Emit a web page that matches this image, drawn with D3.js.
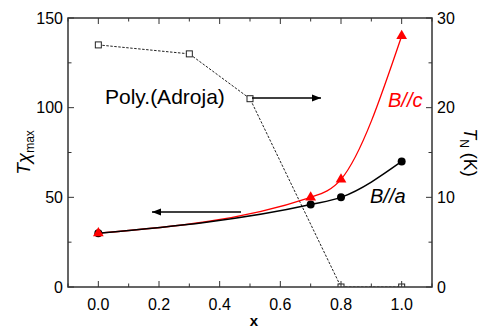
<!DOCTYPE html>
<html>
<head>
<meta charset="utf-8">
<script src="https://cdn.jsdelivr.net/npm/d3@7"></script>
<style>
  body { margin: 0; background: #fff; }
  text { font-family: "Liberation Sans", Arial, sans-serif; }
</style>
</head>
<body>
<div class="chart"></div>
<script>
var svgWidth = 485;
var svgHeight = 330;
var margin = { top: 18, right: 53, bottom: 43, left: 68 };
var width = svgWidth - margin.left - margin.right;
var height = svgHeight - margin.top - margin.bottom;

// data
var polyX = [0.0, 0.3, 0.5, 0.8, 1.0];
var polyTN = [27, 26, 21, 0, 0];          // right axis, K
var bcX = [0.0, 0.7, 0.8, 1.0];
var bcT = [30, 50, 60, 140];              // left axis
var baX = [0.0, 0.7, 0.8, 1.0];
var baT = [30, 46, 50, 70];
var xTicks = [0.0, 0.2, 0.4, 0.6, 0.8, 1.0];
var yTicks = [0, 50, 100, 150];
var y2Ticks = [0, 10, 20, 30];

var svg = d3.select(".chart").append("svg")
  .attr("width", svgWidth)
  .attr("height", svgHeight);

var defs = svg.append("defs");
defs.append("clipPath").attr("id", "plotclip")
  .append("rect").attr("width", width).attr("height", height);

var chartGroup = svg.append("g")
  .attr("transform", `translate(${margin.left}, ${margin.top})`);

var x = d3.scaleLinear().domain([-0.1, 1.1]).range([0, width]);
var y = d3.scaleLinear().domain([0, 150]).range([height, 0]);
var y2 = d3.scaleLinear().domain([0, 30]).range([height, 0]);

var axisColor = "#333";

// series data
var polyData = polyX.map((d, i) => ({ x: d, v: polyTN[i] }));
var bcData = bcX.map((d, i) => ({ x: d, v: bcT[i] }));
var baData = baX.map((d, i) => ({ x: d, v: baT[i] }));

var plot = chartGroup.append("g").attr("clip-path", "url(#plotclip)");

plot.append("path").datum(polyData)
  .attr("fill", "none").attr("stroke", "#222").attr("stroke-width", 1)
  .attr("stroke-dasharray", "2.5,1.5")
  .attr("d", d3.line().x(d => x(d.x)).y(d => y2(d.v)));

// smooth lines through the points (spline-like)
var smooth = d3.line().curve(d3.curveMonotoneX)
  .x(d => x(d.x)).y(d => y(d.v));
plot.append("path").datum(bcData)
  .attr("fill", "none").attr("stroke", "red").attr("stroke-width", 1.3)
  .attr("d", smooth);
plot.append("path").datum(baData)
  .attr("fill", "none").attr("stroke", "black").attr("stroke-width", 1.5)
  .attr("d", smooth);

plot.selectAll(".sq").data(polyData).enter().append("rect")
  .attr("x", d => x(d.x) - 3).attr("y", d => y2(d.v) - 3)
  .attr("width", 6).attr("height", 6)
  .attr("fill", "white").attr("stroke", "#222").attr("stroke-width", 1);

plot.selectAll(".dot").data(baData).enter().append("circle")
  .attr("cx", d => x(d.x)).attr("cy", d => y(d.v)).attr("r", 4)
  .attr("fill", "black");

var tri = d3.symbol().type(d3.symbolTriangle).size(50);
plot.selectAll(".tri").data(bcData).enter().append("path")
  .attr("transform", d => `translate(${x(d.x)}, ${y(d.v)})`)
  .attr("d", tri).attr("fill", "red");

// frame
chartGroup.append("rect")
  .attr("width", width).attr("height", height)
  .attr("fill", "none").attr("stroke", axisColor).attr("stroke-width", 1.5);

// ticks (inward)
var xMinor = d3.range(-0.1, 1.11, 0.1).map(d => +d.toFixed(2));
xMinor.forEach(function(v) {
  var major = xTicks.some(t => Math.abs(t - v) < 1e-6);
  var len = major ? 6 : 3.5;
  chartGroup.append("line").attr("x1", x(v)).attr("x2", x(v))
    .attr("y1", height).attr("y2", height - len).attr("stroke", axisColor);
  chartGroup.append("line").attr("x1", x(v)).attr("x2", x(v))
    .attr("y1", 0).attr("y2", len).attr("stroke", axisColor);
});
d3.range(0, 151, 25).forEach(function(v) {
  var len = v % 50 === 0 ? 6 : 3.5;
  chartGroup.append("line").attr("x1", 0).attr("x2", len)
    .attr("y1", y(v)).attr("y2", y(v)).attr("stroke", axisColor);
  chartGroup.append("line").attr("x1", width).attr("x2", width - len)
    .attr("y1", y(v)).attr("y2", y(v)).attr("stroke", axisColor);
});

// tick labels
chartGroup.selectAll(".xlab").data(xTicks).enter().append("text")
  .attr("x", d => x(d)).attr("y", height + 23)
  .attr("text-anchor", "middle").attr("font-size", "16px")
  .text(d => d.toFixed(1));
chartGroup.selectAll(".ylab").data(yTicks).enter().append("text")
  .attr("x", -5).attr("y", d => y(d)).attr("dy", "0.36em")
  .attr("text-anchor", "end").attr("font-size", "16px")
  .text(d => d);
chartGroup.selectAll(".y2lab").data(y2Ticks).enter().append("text")
  .attr("x", width + 5).attr("y", d => y2(d)).attr("dy", "0.36em")
  .attr("text-anchor", "start").attr("font-size", "16px")
  .text(d => d);

// axis titles
svg.append("text")
  .attr("x", margin.left + width / 2 + 4).attr("y", 326)
  .attr("text-anchor", "middle").attr("font-size", "15px").attr("font-weight", "bold")
  .text("x");
var yt = svg.append("text")
  .attr("transform", `translate(30, ${margin.top + height / 2}) rotate(-90)`)
  .attr("text-anchor", "middle").attr("font-size", "19px");
yt.append("tspan").attr("font-style", "italic").text("T");
yt.append("tspan").attr("font-style", "italic").text("χ");
yt.append("tspan").attr("font-size", "12px").attr("dy", "4").text("max");
var y2t = svg.append("text")
  .attr("transform", `translate(464, ${margin.top + height / 2}) rotate(90)`)
  .attr("text-anchor", "middle").attr("font-size", "18px");
y2t.append("tspan").attr("font-style", "italic").text("T");
y2t.append("tspan").attr("font-size", "12px").attr("dy", "4").text("N");
y2t.append("tspan").attr("dy", "-4").text(" (K)");

// arrows
defs.append("marker").attr("id", "head")
  .attr("viewBox", "0 0 10 10").attr("refX", 10).attr("refY", 5)
  .attr("markerWidth", 9).attr("markerHeight", 9).attr("markerUnits", "userSpaceOnUse")
  .attr("orient", "auto")
  .append("path").attr("d", "M0,1 L10,5 L0,9 Z").attr("fill", "black");

svg.append("line").attr("x1", 252).attr("y1", 98).attr("x2", 321).attr("y2", 98)
  .attr("stroke", "black").attr("stroke-width", 1.5).attr("marker-end", "url(#head)");
svg.append("line").attr("x1", 241).attr("y1", 212).attr("x2", 152).attr("y2", 212)
  .attr("stroke", "black").attr("stroke-width", 1.5).attr("marker-end", "url(#head)");

// annotations
svg.append("text").attr("x", 105).attr("y", 104).attr("font-size", "21px")
  .text("Poly.(Adroja)");
svg.append("text").attr("x", 388).attr("y", 107).attr("font-size", "20px")
  .attr("font-style", "italic").attr("fill", "red").text("B//c");
svg.append("text").attr("x", 370).attr("y", 203).attr("font-size", "20px")
  .attr("font-style", "italic").attr("fill", "black").text("B//a");
</script>
</body>
</html>
